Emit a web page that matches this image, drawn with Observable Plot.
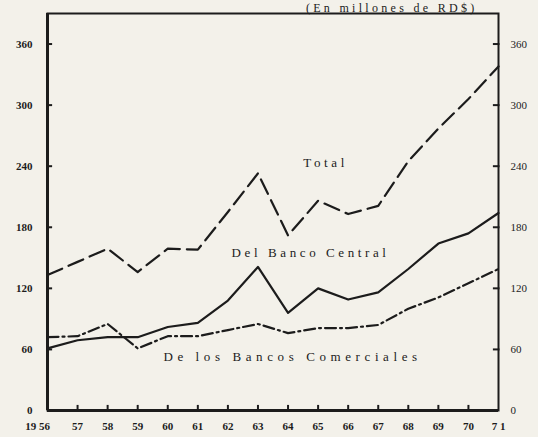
<!DOCTYPE html>
<html><head><meta charset="utf-8">
<script src="https://cdn.jsdelivr.net/npm/d3@7"></script>
<script src="https://cdn.jsdelivr.net/npm/@observablehq/plot@0.6"></script>
<style>
html,body{margin:0;padding:0;background:#f3f1ea;}
svg{display:block;}
</style></head><body><div id="chart"></div>
<script>
const years = [1956,1957,1958,1959,1960,1961,1962,1963,1964,1965,1966,1967,1968,1969,1970,1971];
const total = [133,146,159,136,159,158,195,233,172,206,193,201,245,277,306,338];
const central = [61,69,72,72,82,86,108,141,96,120,109,116,139,164,174,194];
const comerciales = [72,73,85,61,73,73,79,85,76,81,81,84,100,111,125,139];
const yTicks = [0,60,120,180,240,300,360];
const xTickLabels = ["19 56","57","58","59","60","61","62","63","64","65","66","67","68","69","70","7 1"];
const labelTexts = ["Total","Del Banco Central","De los Bancos Comerciales"];
const labelX = [1965.25,1964.75,1964.15];
const labelY = [243,155,53];
const labelSpacing = [3.6,3.6,4.6];
const title = "(En millones de RD$)";
const titleX = 1967.45, titleY = 395;

const rows = (vals) => years.map((x, i) => ({x, y: vals[i]}));
const font = "'Liberation Serif','DejaVu Serif',serif";
const ink = "#1c1c1c";
const xFirst = years[0], xLast = years[years.length - 1];

const chart = Plot.plot({
  width: 538, height: 437,
  marginLeft: 47, marginRight: 40, marginTop: 13, marginBottom: 27,
  style: {background: "transparent", fontFamily: font, color: ink, fontSize: "11px"},
  x: {domain: [xFirst, xLast], axis: null},
  y: {domain: [0, 390], axis: null},
  marks: [
    Plot.frame({stroke: ink, strokeWidth: 2}),
    Plot.ruleX([xFirst], {stroke: ink, strokeWidth: 3}),
    Plot.ruleY([0], {stroke: ink, strokeWidth: 3}),
    // labels
    Plot.axisY(yTicks, {anchor: "left", label: null, tickSize: 0, tickPadding: 15, fontWeight: "bold", fontSize: 11}),
    Plot.axisY(yTicks, {anchor: "right", label: null, tickSize: 0, tickPadding: 12, fontSize: 11}),
    Plot.axisX(years.slice(1), {anchor: "bottom", label: null, tickSize: 0, tickPadding: 12, fontSize: 11, fontWeight: "bold",
      tickFormat: d => xTickLabels[years.indexOf(d)]}),
    Plot.axisX(years.slice(0, 1), {anchor: "bottom", label: null, tickSize: 0, tickPadding: 12, dx: -10, fontSize: 11, fontWeight: "bold",
      tickFormat: d => xTickLabels[years.indexOf(d)]}),
    // inward tick marks
    Plot.ruleY(yTicks.slice(1), {x1: xFirst, x2: xFirst + 0.17, stroke: ink, strokeWidth: 2}),
    Plot.ruleY(yTicks.slice(1), {x1: xLast - 0.17, x2: xLast + 0.05, stroke: ink, strokeWidth: 2}),
    Plot.ruleX(years.slice(1, -1), {y1: 0, y2: 5, stroke: ink, strokeWidth: 2}),
    Plot.line(rows(total), {x: "x", y: "y", stroke: ink, strokeWidth: 2.2, strokeDasharray: "16,7"}),
    Plot.line(rows(central), {x: "x", y: "y", stroke: ink, strokeWidth: 2.2}),
    Plot.line(rows(comerciales), {x: "x", y: "y", stroke: ink, strokeWidth: 2.2, strokeDasharray: "11,4,2,4"}),
    Plot.text(labelTexts, {x: (d, i) => labelX[i], y: (d, i) => labelY[i], text: d => d,
      fontSize: 13, fill: ink}),
    Plot.text([title], {x: titleX, y: titleY, text: d => d, fontSize: 12, fill: ink})
  ]
});
chart.querySelectorAll("text").forEach(t => {
  const i = labelTexts.indexOf(t.textContent);
  if (i >= 0) t.setAttribute("letter-spacing", labelSpacing[i]);
  if (t.textContent === title) t.setAttribute("letter-spacing", "3.3");
});
document.getElementById("chart").append(chart);
</script></body></html>
